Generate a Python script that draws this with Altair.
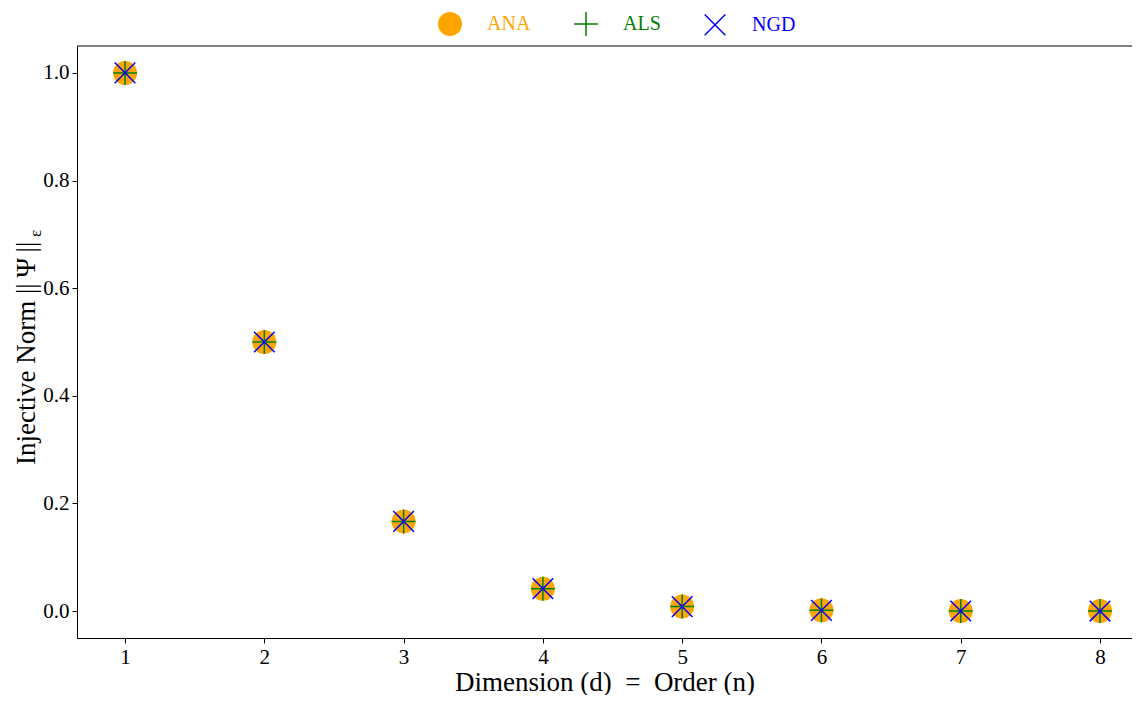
import altair as alt
import pandas as pd

dims = [1, 2, 3, 4, 5, 6, 7, 8]
ana = [1.0, 0.5, 0.1667, 0.0417, 0.0083, 0.0014, 0.0002, 0.00002]
als = [1.0, 0.5, 0.1667, 0.0417, 0.0083, 0.0014, 0.0002, 0.00002]
ngd = [1.0, 0.5, 0.1667, 0.0417, 0.0083, 0.0014, 0.0002, 0.00002]
series = ["ANA", "ALS", "NGD"]
colors = ["#FFA500", "#008000", "#0000FF"]
y_ticks = [0.0, 0.2, 0.4, 0.6, 0.8, 1.0]

rows = []
for name, vals in zip(series, [ana, als, ngd]):
    for d, v in zip(dims, vals):
        rows.append({"d": d, "value": v, "method": name})
df = pd.DataFrame(rows)

TOP = 38
W, H = 1055, 592
FONT = "Liberation Serif"

plus_path = "M-1,0H1M0,-1V1"
x_path = "M-0.86,-0.86L0.86,0.86M-0.86,0.86L0.86,-0.86"

label_fill = ("datum.label === 'ANA' ? '#FFA500' : "
              "(datum.label === 'ALS' ? '#008000' : '#0000FF')")

legend = alt.Legend(
    title=None, orient="none", direction="horizontal",
    legendX=360, legendY=-35, padding=0,
    symbolSize=576, symbolStrokeWidth=1.5, labelOffset=24,
    columnPadding=40, labelFont=FONT, labelFontSize=20,
    symbolOpacity=1,
    labelColor=alt.ExprRef(expr=label_fill),
)

points = alt.Chart(df).mark_point(
    filled=True, size=576, strokeWidth=1.5, opacity=1
).encode(
    x=alt.X("d:Q", scale=alt.Scale(domain=[0.655, 8.2297], nice=False, zero=False),
            axis=alt.Axis(values=dims, format="d",
                          title="Dimension (d)\u2002=\u2002Order (n)",
                          titleFontSize=27, titlePadding=2, titleFontWeight="normal")),
    y=alt.Y("value:Q", scale=alt.Scale(domain=[-0.05, 1.05], nice=False, zero=False),
            axis=alt.Axis(values=y_ticks, format=".1f", title=None)),
    fill=alt.Fill("method:N", scale=alt.Scale(domain=series,
                  range=["#FFA500", "transparent", "transparent"]), legend=legend, sort=series),
    stroke=alt.Stroke("method:N", scale=alt.Scale(domain=series,
                  range=["transparent", "#008000", "#0000FF"]), legend=legend, sort=series),
    shape=alt.Shape("method:N", scale=alt.Scale(domain=series,
                  range=["circle", plus_path, x_path]), legend=legend, sort=series),
    order=alt.Order("ord:Q"),
).transform_calculate(
    ord="datum.method === 'ANA' ? 0 : (datum.method === 'ALS' ? 1 : 2)"
)

one = pd.DataFrame({"a": [0]})
top_rule = alt.Chart(one).mark_rule(color="black", strokeWidth=1).encode(
    y=alt.value(0), x=alt.value(0), x2=alt.value(W)
)
ytitle = alt.Chart(one).mark_text(
    text="Injective Norm ||\u2009\u03a8\u2009||", angle=270, align="left",
    baseline="alphabetic", font=FONT, fontSize=27, color="black"
).encode(x=alt.value(-42), y=alt.value(465 - 8 - TOP))
ysub = alt.Chart(one).mark_text(
    text="\u03b5", angle=270, align="left",
    baseline="alphabetic", font=FONT, fontSize=17, color="black"
).encode(x=alt.value(-36), y=alt.value(237 - 8 - TOP))

chart = alt.layer(points, top_rule, ytitle, ysub).properties(
    width=W, height=H,
    autosize=alt.AutoSizeParams(type="none"),
    padding={"left": 69, "top": TOP, "right": 0, "bottom": 57},
).configure_view(stroke=None).configure_axis(
    labelFont=FONT, labelFontSize=21, titleFont=FONT, titleColor="black",
    labelColor="black", domainColor="black", tickColor="black",
    tickSize=5, grid=False, labelPadding=3, domainWidth=1, tickWidth=1,
)

chart.save("out.html", embed_options={"renderer": "svg", "actions": False})
